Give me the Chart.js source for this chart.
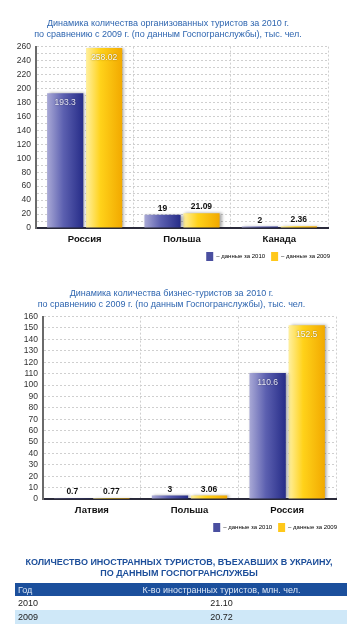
<!DOCTYPE html>
<html>
<head>
<meta charset="utf-8">
<script src="https://cdn.jsdelivr.net/npm/chart.js@4.4.1/dist/chart.umd.min.js"></script>
<style>
  html, body { margin: 0; padding: 0; background: #fff; }
  body { width: 358px; height: 633px; position: relative; overflow: hidden; font-family: "Liberation Sans", Arial, sans-serif; }
  .cw { position: absolute; left: 0; width: 358px; }
  #c1w { top: 0; height: 272px; }
  #c2w { top: 268px; height: 275px; }
  #ttl { position: absolute; top: 557px; left: 0; width: 358px; text-align: center; color: #1c4e9a; font-weight: bold; font-size: 9px; line-height: 11px; }
  table { position: absolute; top: 583px; left: 15px; width: 332px; border-collapse: collapse; font-size: 9px; }
  th, td { padding: 0 0 0 3px; height: 13px; text-align: left; font-weight: normal; }
  th { background: #1b4f9c; color: #dbe6f5; height: 13px; }
  td { color: #222; height: 14px; }
  tr.alt td { background: #cfe8f8; }
  .c2 { text-align: center; padding: 0; }
</style>
</head>
<body>
<div class="cw" id="c1w"><canvas id="c1"></canvas></div>
<div class="cw" id="c2w"><canvas id="c2"></canvas></div>
<div id="ttl">КОЛИЧЕСТВО ИНОСТРАННЫХ ТУРИСТОВ, ВЪЕХАВШИХ В УКРАИНУ,<br>ПО ДАННЫМ ГОСПОГРАНСЛУЖБЫ</div>
<table>
  <tr><th style="width:78px">Год</th><th class="c2">К-во иностранных туристов, млн. чел.</th></tr>
  <tr><td>2010</td><td class="c2">21.10</td></tr>
  <tr class="alt"><td>2009</td><td class="c2">20.72</td></tr>
</table>
<script>
// ---- data ----
const title1 = ["Динамика количества организованных туристов за 2010 г.", "по сравнению с 2009 г. (по данным Госпогранслужбы), тыс. чел."];
const categories1 = ["Россия", "Польша", "Канада"];
const values1_2010 = [193.3, 19, 2];
const values1_2009 = [258.02, 21.09, 2.36];
const labels1_2010 = ["193.3", "19", "2"];
const labels1_2009 = ["258.02", "21.09", "2.36"];

const title2 = ["Динамика количества бизнес-туристов за 2010 г.", "по сравнению с 2009 г. (по данным Госпогранслужбы), тыс. чел."];
const categories2 = ["Латвия", "Польша", "Россия"];
const values2_2010 = [0.7, 3, 110.6];
const values2_2009 = [0.77, 3.06, 152.5];
const labels2_2010 = ["0.7", "3", "110.6"];
const labels2_2009 = ["0.77", "3.06", "152.5"];

const seriesNames = ["– данные за 2010", "– данные за 2009"];

const FONT = "'Liberation Sans', Arial, sans-serif";

const gradPlugin = {
  id: 'grad',
  beforeDatasetsDraw(chart) {
    const ctx = chart.ctx;
    chart.data.datasets.forEach((ds, di) => {
      const meta = chart.getDatasetMeta(di);
      meta.data.forEach(el => {
        const p = el.getProps(['x', 'width'], true);
        const l = p.x - p.width / 2, r = p.x + p.width / 2;
        const g = ctx.createLinearGradient(l, 0, r, 0);
        if (di === 0) {
          g.addColorStop(0, '#a9a9d6');
          g.addColorStop(0.45, '#5c60b0');
          g.addColorStop(1, '#262c88');
        } else {
          g.addColorStop(0, '#fff0a0');
          g.addColorStop(0.4, '#ffd21a');
          g.addColorStop(1, '#f2a900');
        }
        el.options = Object.assign({}, el.options, { backgroundColor: g });
      });
    });
  },
  beforeDatasetDraw(chart) {
    const ctx = chart.ctx;
    ctx.save();
    ctx.shadowColor = 'rgba(0,0,0,0.35)';
    ctx.shadowBlur = 3;
    ctx.shadowOffsetX = 2;
    ctx.shadowOffsetY = 0;
  },
  afterDatasetDraw(chart) {
    chart.ctx.restore();
  },
  afterDatasetsDraw(chart, args, opts) {
    const ctx = chart.ctx;
    const texts = opts.texts;
    ctx.save();
    ctx.textAlign = 'center';
    chart.data.datasets.forEach((ds, di) => {
      const meta = chart.getDatasetMeta(di);
      meta.data.forEach((el, i) => {
        const p = el.getProps(['x', 'y', 'base'], true);
        const v = ds.data[i];
        const t = texts[di][i];
        if (v > 50) {
          ctx.font = '8.5px ' + FONT;
          ctx.fillStyle = di === 0 ? '#e8e8f8' : '#ffffff';
          ctx.textBaseline = 'top';
          ctx.shadowColor = 'rgba(0,0,0,0.55)';
          ctx.shadowBlur = 1.5;
          ctx.fillText(t, p.x, p.y + 5);
          ctx.shadowBlur = 0;
          ctx.shadowColor = 'transparent';
        } else {
          ctx.font = 'bold 8.5px ' + FONT;
          ctx.fillStyle = '#111';
          ctx.textBaseline = 'bottom';
          ctx.fillText(t, p.x, p.y - 2);
        }
      });
    });
    ctx.restore();
  }
};

function makeChart(id, title, cats, v10, v09, l10, l09, max, labelEvery, leftW, rightPad, rightAxisW, topPad) {
  return new Chart(document.getElementById(id), {
    type: 'bar',
    data: {
      labels: cats,
      datasets: [
        { label: seriesNames[0], data: v10, backgroundColor: '#3a3f95', categoryPercentage: 0.8, barPercentage: 0.93 },
        { label: seriesNames[1], data: v09, backgroundColor: '#ffc400', categoryPercentage: 0.8, barPercentage: 0.93 }
      ]
    },
    options: {
      responsive: true,
      maintainAspectRatio: false,
      animation: false,
      layout: { padding: { left: 0, right: rightPad, top: 0, bottom: 1 } },
      plugins: {
        title: {
          display: true, text: title, color: '#2f66b0',
          font: { family: FONT, size: 9, weight: 'normal', lineHeight: 1.2 },
          padding: { top: topPad, bottom: 7 }
        },
        legend: {
          display: true, position: 'bottom', align: 'end',
          labels: {
            boxWidth: 7, boxHeight: 9, padding: 6, color: '#888',
            font: { family: FONT, size: 6 },
            generateLabels: () => [
              { text: seriesNames[0], fillStyle: '#4a4fa0', strokeStyle: '#4a4fa0', lineWidth: 0, datasetIndex: 0 },
              { text: seriesNames[1], fillStyle: '#ffc81a', strokeStyle: '#ffc81a', lineWidth: 0, datasetIndex: 1 }
            ]
          }
        },
        tooltip: { enabled: false },
        grad: { texts: [l10, l09] }
      },
      scales: {
        x: {
          grid: { display: true, offset: true, color: '#cfcfcf', drawTicks: false, tickLength: 0 },
          border: { display: true, color: '#2a2a3a', width: 2, dash: [2, 2] },
          ticks: { color: '#111', font: { family: FONT, size: 9.5, weight: 'bold' }, padding: 6 },
          afterFit: s => { s.height = 18; }
        },
        y: {
          min: 0, max: max,
          grid: { color: '#cfcfcf', drawTicks: false },
          border: { display: true, color: '#6a6a6a', width: 2, dash: [2, 2] },
          ticks: {
            stepSize: 10, autoSkip: false, color: '#333', padding: 5,
            font: { family: FONT, size: 8.5 },
            callback: v => (v % labelEvery === 0 ? String(v) : '')
          },
          afterFit: s => { s.width = leftW; }
        },
        yr: {
          position: 'right', display: true,
          grid: { display: false, drawTicks: false },
          border: { display: false },
          ticks: { display: false },
          afterFit: s => { s.width = rightAxisW; }
        }
      }
    },
    plugins: [gradPlugin]
  });
}

const ch1 = makeChart('c1', title1, categories1, values1_2010, values1_2009, labels1_2010, labels1_2009, 260, 20, 36, 22, 8, 18);
const ch2 = makeChart('c2', title2, categories2, values2_2010, values2_2009, labels2_2010, labels2_2009, 160, 10, 43, 15, 7, 20);
</script>
</body>
</html>
